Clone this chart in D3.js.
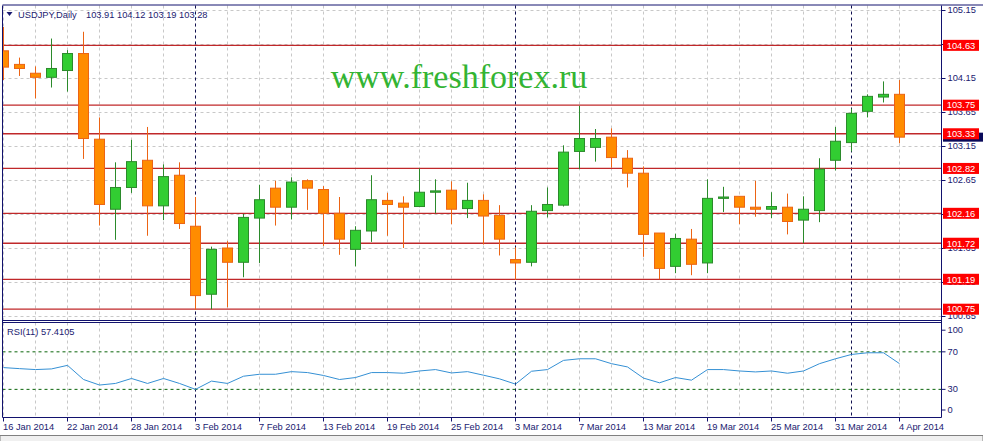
<!DOCTYPE html>
<html>
<head>
<meta charset="utf-8">
<script src="https://cdn.jsdelivr.net/npm/d3@7"></script>
<style>
body { margin: 0; background: #fff; }
svg { display: block; font-family: "Liberation Sans", Arial, sans-serif; }
</style>
</head>
<body>
<svg id="chart"></svg>
<script>
// Daily bars, 16 Jan - 4 Apr 2014
var dates = [
  '2014-01-16','2014-01-17','2014-01-20','2014-01-21','2014-01-22','2014-01-23','2014-01-24','2014-01-27','2014-01-28','2014-01-29','2014-01-30','2014-01-31',
  '2014-02-03','2014-02-04','2014-02-05','2014-02-06','2014-02-07','2014-02-10','2014-02-11','2014-02-12','2014-02-13','2014-02-14','2014-02-17','2014-02-18','2014-02-19','2014-02-20','2014-02-21','2014-02-24','2014-02-25','2014-02-26','2014-02-27','2014-02-28',
  '2014-03-03','2014-03-04','2014-03-05','2014-03-06','2014-03-07','2014-03-10','2014-03-11','2014-03-12','2014-03-13','2014-03-14','2014-03-17','2014-03-18','2014-03-19','2014-03-20','2014-03-21','2014-03-24','2014-03-25','2014-03-26','2014-03-27','2014-03-28','2014-03-31',
  '2014-04-01','2014-04-02','2014-04-03','2014-04-04'
];
var open  = [104.55,104.35,104.22,104.16,104.26,104.51,103.25,102.22,102.54,102.94,102.27,102.72,101.97,100.97,101.65,101.44,102.09,102.53,102.25,102.64,102.51,102.16,101.63,101.90,102.35,102.31,102.26,102.47,102.50,102.23,102.35,102.13,101.48,101.44,102.20,102.28,103.07,103.13,103.28,102.97,102.75,101.87,101.38,101.78,101.43,102.38,102.41,102.25,102.22,102.25,102.06,102.20,102.94,103.20,103.66,103.87,103.91];
var high  = [104.90,104.45,104.32,104.73,104.56,104.83,103.57,102.91,103.24,103.43,102.88,102.91,102.40,101.67,101.75,102.15,102.58,102.64,102.69,102.66,102.56,102.40,101.97,102.72,102.46,102.41,102.82,102.66,102.63,102.61,102.44,102.28,101.66,102.28,102.54,103.16,103.74,103.40,103.41,103.09,102.85,101.87,101.86,101.93,102.66,102.55,102.41,102.64,102.47,102.45,102.41,102.97,103.43,103.70,103.91,104.10,104.12];
var low   = [104.12,104.18,103.85,104.01,103.95,102.96,101.98,101.77,102.46,101.83,102.06,101.93,100.74,100.75,100.78,101.22,101.43,101.98,102.07,102.21,101.68,101.55,101.38,101.74,101.83,101.65,102.25,102.16,102.00,102.09,101.70,101.54,101.18,101.38,102.10,102.26,102.81,102.92,102.83,102.54,101.52,101.19,101.28,101.25,101.28,102.18,102.00,102.11,102.09,101.85,101.72,102.03,102.79,103.07,103.57,103.79,103.19];
var close = [104.31,104.29,104.16,104.29,104.51,103.26,102.29,102.54,102.92,102.27,102.70,102.01,100.95,101.63,101.44,102.10,102.36,102.25,102.62,102.53,102.16,101.78,101.91,102.36,102.29,102.25,102.47,102.49,102.22,102.35,102.12,101.78,101.43,102.19,102.29,103.06,103.26,103.26,102.98,102.75,101.85,101.35,101.79,101.41,102.38,102.40,102.25,102.22,102.26,102.04,102.22,102.81,103.22,103.63,103.88,103.91,103.28];
var rsi   = [53.2,52.1,51.1,51.8,55.6,40.5,34.6,36.3,41.6,36.3,41.6,36.3,30.0,38.8,36.3,44.0,46.1,46.1,48.9,47.9,44.8,40.5,42.6,47.9,47.9,47.2,49.6,51.1,47.5,48.9,45.1,41.2,35.6,49.3,51.1,60.9,62.6,62.6,57.4,53.9,42.0,37.0,42.6,39.8,51.1,51.1,49.6,48.6,49.6,47.2,49.6,57.4,62.6,67.2,69.0,69.0,57.4105];

var levels = [104.63, 103.75, 103.33, 102.82, 102.16, 101.72, 101.19, 100.75];
var priceTicks = [105.15, 104.65, 104.15, 103.65, 103.15, 102.65, 102.15, 101.65, 101.15, 100.65];
var rsiTicks = [100, 70, 30, 0];
var rsiLevels = [70, 30];
var xLabels = ['2014-01-16','2014-01-22','2014-01-28','2014-02-03','2014-02-07','2014-02-13','2014-02-19','2014-02-25','2014-03-03','2014-03-07','2014-03-13','2014-03-19','2014-03-25','2014-03-31','2014-04-04'];
var monthStarts = ['2014-02-03','2014-03-03','2014-04-01'];
var symbol = 'USDJPY,Daily';
var watermark = 'www.freshforex.ru';

var width = 983, height = 441;
var left = 2.5, right = 941.5, mainTop = 5.5, mainBottom = 320.5, rsiTop = 322.5, rsiBottom = 417.5;
var navy = '#12126e', textNavy = '#1a1a70';

var svg = d3.select('#chart').attr('width', width).attr('height', height);
svg.append('rect').attr('width', width).attr('height', height).attr('fill', '#fff');

var x = d3.scaleLinear().domain([0, dates.length - 1]).range([3.5, 899.5]);
var y = d3.scaleLinear().domain([105.15, 100.65]).range([10, 316]);
var yr = d3.scaleLinear().domain([0, 100]).range([417.5, 323.7]);
var idx = function (d) { return dates.indexOf(d); };
var fmtDate = d3.timeFormat('%-d %b %Y'), parse = d3.timeParse('%Y-%m-%d');

svg.append('clipPath').attr('id', 'mainClip').append('rect')
    .attr('x', left).attr('y', mainTop).attr('width', right - left).attr('height', mainBottom - mainTop);
svg.append('clipPath').attr('id', 'rsiClip').append('rect')
    .attr('x', left).attr('y', rsiTop).attr('width', right - left).attr('height', rsiBottom - rsiTop);

// vertical grid, every 2 bars
var gridIdx = d3.range(0, dates.length, 2);
[[mainTop, mainBottom], [rsiTop, rsiBottom]].forEach(function (p) {
    svg.append('g').selectAll('line').data(gridIdx).enter().append('line')
        .attr('x1', d => x(d)).attr('x2', d => x(d))
        .attr('y1', p[0]).attr('y2', p[1])
        .attr('stroke', '#c8c8c8').attr('stroke-dasharray', '3,3');
});

// horizontal grid in price panel
svg.append('g').selectAll('line').data(priceTicks).enter().append('line')
    .attr('x1', left).attr('x2', right)
    .attr('y1', d => Math.round(y(d)) + 0.5).attr('y2', d => Math.round(y(d)) + 0.5)
    .attr('stroke', '#c8c8c8').attr('stroke-dasharray', '3,3');

// month separators
[[mainTop, mainBottom], [rsiTop, rsiBottom]].forEach(function (p) {
    svg.append('g').selectAll('line').data(monthStarts).enter().append('line')
        .attr('x1', d => x(idx(d))).attr('x2', d => x(idx(d)))
        .attr('y1', p[0]).attr('y2', p[1])
        .attr('stroke', '#101050').attr('stroke-dasharray', '3,3');
});

// watermark
svg.append('text')
    .attr('x', 459).attr('y', 88)
    .attr('text-anchor', 'middle')
    .style('font-family', '"Liberation Serif", "Times New Roman", serif')
    .style('font-size', '34px')
    .attr('fill', '#33b433')
    .text(watermark);

// support / resistance levels
svg.append('g').selectAll('line').data(levels).enter().append('line')
    .attr('x1', left).attr('x2', right)
    .attr('y1', d => y(d)).attr('y2', d => y(d))
    .attr('stroke', '#c0282a').attr('stroke-width', 1.3);

// candles
var bars = dates.map(function (d, i) {
    return { i: i, o: open[i], h: high[i], l: low[i], c: close[i], up: close[i] >= open[i] };
});
var candles = svg.append('g').attr('clip-path', 'url(#mainClip)');
candles.selectAll('.wick').data(bars).enter().append('line')
    .attr('class', 'wick')
    .attr('x1', d => x(d.i)).attr('x2', d => x(d.i))
    .attr('y1', d => y(d.h)).attr('y2', d => y(d.l))
    .attr('stroke', d => d.up ? '#2b8a2b' : '#ec6414');
candles.selectAll('.body').data(bars).enter().append('rect')
    .attr('class', 'body')
    .attr('x', d => x(d.i) - 5).attr('width', 10)
    .attr('y', d => y(Math.max(d.o, d.c)))
    .attr('height', d => Math.max(0.5, Math.abs(y(d.o) - y(d.c))))
    .attr('fill', d => d.up ? '#32cd32' : '#ff8c00')
    .attr('stroke', d => d.up ? '#2b8a2b' : '#ec6414');

// RSI levels + line
svg.append('g').selectAll('line').data(rsiLevels).enter().append('line')
    .attr('x1', left).attr('x2', right)
    .attr('y1', d => yr(d)).attr('y2', d => yr(d))
    .attr('stroke', '#0a640a').attr('stroke-dasharray', '3,3');
svg.append('path').datum(rsi)
    .attr('clip-path', 'url(#rsiClip)')
    .attr('fill', 'none').attr('stroke', '#3590d4').attr('stroke-width', 1)
    .attr('d', d3.line().x((d, i) => x(i)).y(d => yr(d)));

// frames
var frame = svg.append('g').attr('stroke', navy).attr('fill', 'none');
frame.append('line').attr('x1', left).attr('x2', width).attr('y1', mainTop - 0.5).attr('y2', mainTop - 0.5);
frame.append('line').attr('x1', left).attr('x2', left).attr('y1', mainTop).attr('y2', rsiBottom);
frame.append('line').attr('x1', right).attr('x2', right).attr('y1', mainTop).attr('y2', rsiBottom);
frame.append('line').attr('x1', left).attr('x2', right).attr('y1', mainBottom).attr('y2', mainBottom);
frame.append('line').attr('x1', left).attr('x2', right).attr('y1', rsiTop).attr('y2', rsiTop);
frame.append('line').attr('x1', left).attr('x2', right).attr('y1', rsiBottom).attr('y2', rsiBottom);

// price axis
var priceAxis = svg.append('g')
    .attr('transform', `translate(${right},0)`)
    .call(d3.axisRight(y).tickValues(priceTicks).tickSize(4).tickPadding(2).tickFormat(d3.format('.2f')));
priceAxis.select('.domain').remove();
priceAxis.selectAll('line').attr('stroke', navy);
priceAxis.selectAll('text').attr('fill', textNavy).style('font-size', '9.3px');

// bid marker under the level labels
var last = bars[bars.length - 1];
svg.append('rect')
    .attr('x', right + 1.5).attr('width', 41)
    .attr('y', y(last.c) - 4.5).attr('height', 9)
    .attr('fill', '#0a0a5a');

// level labels
var lab = svg.append('g').selectAll('g').data(levels).enter().append('g')
    .attr('transform', d => `translate(${right + 1.5},${y(d)})`);
lab.append('rect').attr('x', 0).attr('y', -5.5).attr('width', 36).attr('height', 11).attr('fill', '#ff0000');
lab.append('text').attr('x', 18).attr('dy', '0.35em').attr('text-anchor', 'middle')
    .attr('fill', '#fff').style('font-size', '9.3px')
    .text(d => d3.format('.2f')(d));

// RSI axis, end labels pulled inside like the terminal does
var rsiAxis = svg.append('g')
    .attr('transform', `translate(${right},0)`)
    .call(d3.axisRight(yr).tickValues(rsiTicks).tickSize(4).tickPadding(2));
rsiAxis.select('.domain').remove();
rsiAxis.selectAll('.tick')
    .attr('transform', d => `translate(0,${yr(d) + (d === 100 ? 6.5 : d === 0 ? -7.5 : 0)})`);
rsiAxis.selectAll('line').attr('stroke', navy);
rsiAxis.selectAll('text').attr('fill', textNavy).style('font-size', '9.3px');

// time axis
var tAxis = svg.append('g');
var tTicks = tAxis.selectAll('g').data(xLabels).enter().append('g')
    .attr('transform', d => `translate(${x(idx(d))},${rsiBottom})`);
tTicks.append('line').attr('y1', 0).attr('y2', 4).attr('stroke', navy);
tTicks.append('text').attr('x', -0.5).attr('y', 12.5)
    .attr('fill', textNavy).style('font-size', '9.3px')
    .text(d => fmtDate(parse(d)));

// titles
svg.append('path').attr('d', 'M6.5,12 L12.5,12 L9.5,16 Z').attr('fill', textNavy);
svg.append('text').attr('x', 18).attr('y', 17.5).attr('fill', textNavy).style('font-size', '9.3px').text(symbol);
svg.append('text').attr('x', 86).attr('y', 17.5).attr('fill', textNavy).style('font-size', '9.3px')
    .text([last.o, last.h, last.l, last.c].map(d3.format('.2f')).join(' '));
svg.append('text').attr('x', 7).attr('y', 334.5).attr('fill', textNavy).style('font-size', '9.3px')
    .text('RSI(11) ' + d3.format('.4f')(rsi[rsi.length - 1]));

// tab strip at the bottom
svg.append('rect').attr('x', 0).attr('y', 435.5).attr('width', width).attr('height', 6)
    .attr('fill', '#f0f0f0').attr('stroke', '#808080');
</script>
</body>
</html>
